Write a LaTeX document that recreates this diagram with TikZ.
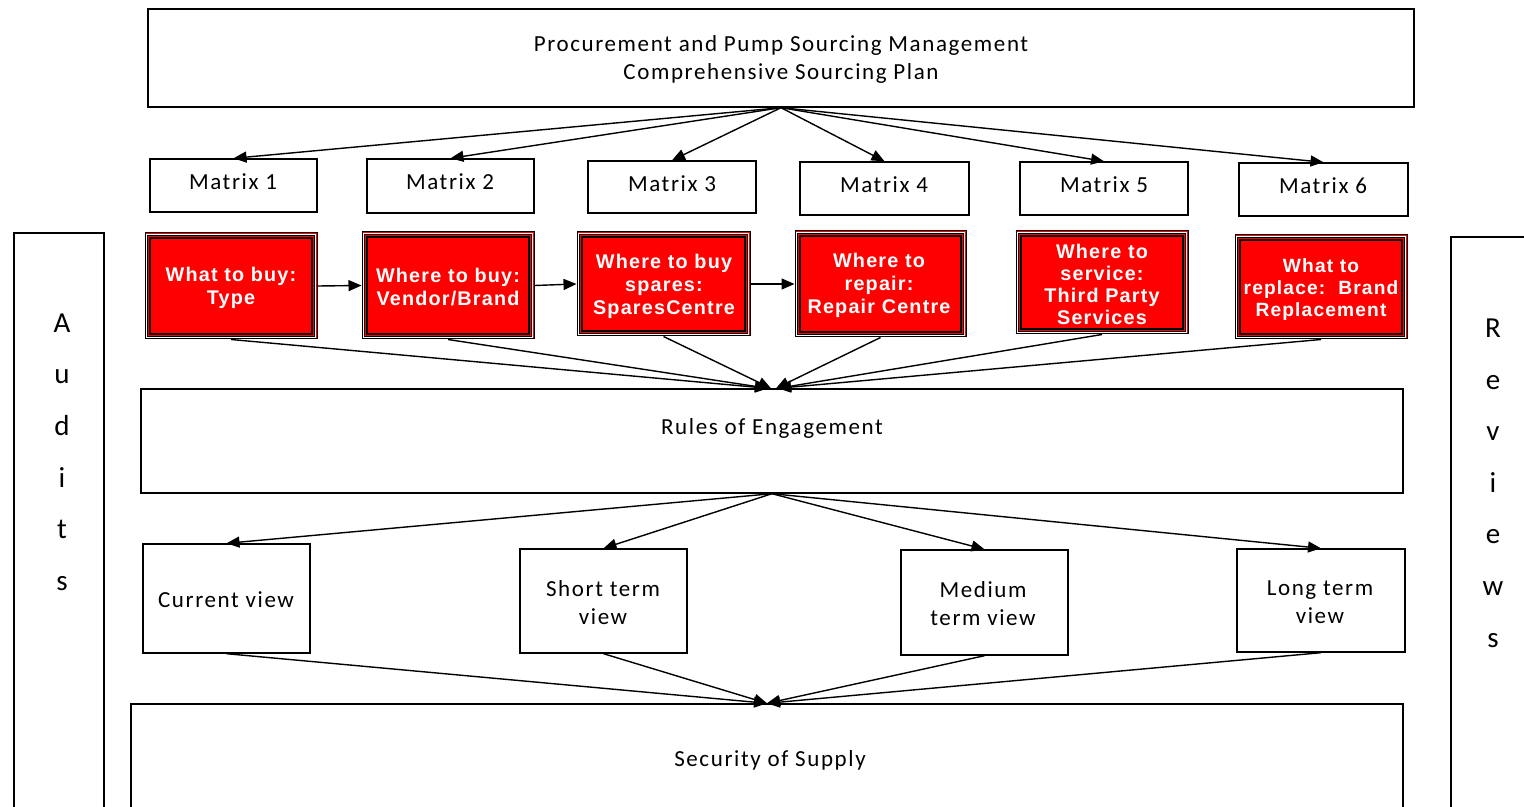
\documentclass[tikz,border=0pt]{standalone}
\usepackage{fontspec}
\setmainfont{Carlito}[LetterSpace=7]
\newfontfamily\arialb{Liberation Sans}[LetterSpace=6,UprightFont=*-Bold]
\usetikzlibrary{arrows.meta,fit}
\tikzset{
  box/.style={draw=black, line width=0.7pt, inner sep=0pt},
  txt/.style={inner sep=0pt, align=center, font=\fontsize{11.5}{14}\selectfont},
  redtxt/.style={inner sep=0pt, align=center, text=white, font=\arialb\fontsize{9.9}{11.5}\selectfont},
  redbox/.style={draw=black, line width=0.5pt, fill=red, inner sep=0pt,
    path picture={
      \draw[white, line width=0.5pt] ([shift={(0.75pt,-0.75pt)}]path picture bounding box.north west) rectangle ([shift={(-0.75pt,0.75pt)}]path picture bounding box.south east);
      \draw[black, line width=0.5pt] ([shift={(1.25pt,-1.25pt)}]path picture bounding box.north west) rectangle ([shift={(-1.25pt,1.25pt)}]path picture bounding box.south east);
      \draw[black, line width=1pt] ([shift={(2.5pt,-2.5pt)}]path picture bounding box.north west) rectangle ([shift={(-2.5pt,2.5pt)}]path picture bounding box.south east);
    }},
  arr/.style={-{Triangle[length=6.5pt,width=5.5pt]}, line width=0.7pt},
  side/.style={inner sep=0pt, align=center, font=\fontsize{14.5}{25.8}\selectfont}
}
\begin{document}
\begin{tikzpicture}[x=0.5pt,y=-0.5pt]
\useasboundingbox (0,0) rectangle (1524,807);
\clip (0,0) rectangle (1524,807);
% side boxes
\node[box, fit={(14,233) (104,840)}] (aud) {};
\node[side] (audt) at (62,452) {A\\u\\d\\i\\t\\s};
\node[box, fit={(1451,237) (1560,840)}] (rev) {};
\node[side] (revt) at (1493,483) {R\\e\\v\\i\\e\\w\\s};
% top
\node[box, fit={(148,9) (1414,107)}] (top) {};
\node[txt] (topt) at (781,59) {Procurement and Pump Sourcing Management\\Comprehensive Sourcing Plan};
% matrices
\node[box, fit={(150,159) (317,212)}] (m1) {};
\node[box, fit={(367,159) (534,213)}] (m2) {};
\node[box, fit={(588,161) (756,213)}] (m3) {};
\node[box, fit={(800,162) (969,215)}] (m4) {};
\node[box, fit={(1020,162) (1188,215)}] (m5) {};
\node[box, fit={(1239,163) (1408,216)}] (m6) {};
\node[txt] (m1t) at (233,182) {Matrix 1};
\node[txt] (m2t) at (450,182) {Matrix 2};
\node[txt] (m3t) at (672,184) {Matrix 3};
\node[txt] (m4t) at (884,185) {Matrix 4};
\node[txt] (m5t) at (1104,185) {Matrix 5};
\node[txt] (m6t) at (1323,186) {Matrix 6};
\foreach \m in {m1,m2,m3,m4,m5,m6} \draw[arr] (top.south) -- (\m.north);
% red boxes
\node[redbox, fit={(145,233) (317,339)}] (r1) {};
\node[redbox, fit={(362,232) (534,339)}] (r2) {};
\node[redbox, fit={(577,232) (750,336)}] (r3) {};
\node[redbox, fit={(795,231) (966,337)}] (r4) {};
\node[redbox, fit={(1016,231) (1188,334)}] (r5) {};
\node[redbox, fit={(1235,235) (1407,339)}] (r6) {};
\node[redtxt] (r1t) at (231,288) {What to buy:\\Type};
\node[redtxt] (r2t) at (448,287) {Where to buy:\\Vendor/Brand};
\node[redtxt] (r3t) at (664,286) {Where to buy\\spares:\\SparesCentre};
\node[redtxt] (r4t) at (879,285.5) {Where to\\repair:\\Repair Centre};
\node[redtxt, font=\arialb\fontsize{9.9}{11}\selectfont] (r5t) at (1102,284) {Where to\\service:\\Third Party\\Services};
\node[redtxt, font=\arialb\fontsize{9.6}{11}\selectfont] (r6t) at (1321,290) {What to\\replace:\ \ Brand\\Replacement};
\draw[arr] (r1.east) -- (r2.west);
\draw[arr] (r2.east) -- (r3.west);
\draw[arr] (r3.east) -- (r4.west);
% rules
\node[box, fit={(141,389) (1403,493)}] (rules) {};
\node[txt] (rulest) at (772,428) {Rules of Engagement};
\draw[arr] (r1.south) -- ([xshift=-2pt]rules.north);
\draw[arr] (r2.south) -- ([xshift=-2pt]rules.north);
\draw[arr] (r3.south) -- ([xshift=-0.5pt]rules.north);
\draw[arr] (r4.south) -- ([xshift=2pt]rules.north);
\draw[arr] (r5.south) -- ([xshift=3pt]rules.north);
\draw[arr] (r6.south) -- ([xshift=3pt]rules.north);
% views
\node[box, fit={(143,544) (310,653)}] (v1) {};
\node[box, fit={(520,549) (687,653)}] (v2) {};
\node[box, fit={(901,550) (1068,655)}] (v3) {};
\node[box, fit={(1237,549) (1405,652)}] (v4) {};
\node[txt] (v1t) at (226,600) {Current view};
\node[txt] (v2t) at (603,603) {Short term\\view};
\node[txt] (v3t) at (983,604) {Medium\\term view};
\node[txt] (v4t) at (1320,602) {Long term\\view};
\foreach \v in {v1,v2,v3,v4} \draw[arr] (rules.south) -- (\v.north);
% security
\node[box, fit={(131,704) (1403,814)}] (sec) {};
\node[txt] (sect) at (770,760) {Security of Supply};
\foreach \v in {v1,v2,v3,v4} \draw[arr] (\v.south) -- (sec.north);
\end{tikzpicture}
\end{document}
